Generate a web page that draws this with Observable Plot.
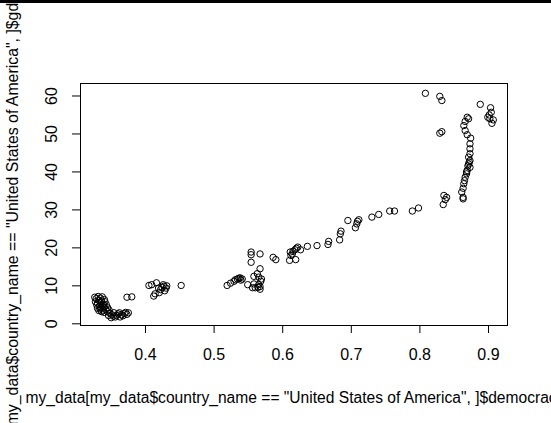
<!DOCTYPE html>
<html>
<head>
<meta charset="utf-8">
<script src="https://cdn.jsdelivr.net/npm/d3@7"></script>
<script src="https://cdn.jsdelivr.net/npm/@observablehq/plot@0.6"></script>
<style>
  html, body { margin: 0; padding: 0; background: #fff; }
  #wrap { position: relative; width: 551px; height: 423px; overflow: hidden; }
  #bar { position: absolute; left: 0; top: 0; width: 551px; height: 3px; background: #000; }
</style>
</head>
<body>
<div id="wrap"><div id="bar"></div></div>
<script>
// democracy index (x) and GDP per capita (y)
const democracy = [
  0.326,0.328,0.331,0.334,0.337,0.332,0.336,0.340,0.327,0.330,0.334,0.338,0.341,0.329,0.333,0.336,0.340,0.343,0.330,0.334,0.338,0.342,0.345,0.336,0.340,0.344,0.347,0.335,0.332,0.339,
  0.348,0.351,0.353,0.356,0.358,0.360,0.362,0.365,0.367,0.369,0.371,0.373,0.375,0.354,0.350,0.363,0.346,
  0.373,0.380,
  0.405,0.409,0.416,0.412,0.414,0.420,0.422,0.424,0.426,0.428,0.430,0.431,0.427,0.419,0.452,
  0.519,0.524,0.529,0.531,0.534,0.536,0.538,0.541,0.539,0.549,0.556,0.558,0.560,0.564,0.565,0.567,0.567,0.568,0.569,0.565,0.563,0.558,0.567,0.554,0.554,0.554,0.567,0.586,0.590,
  0.610,0.612,0.611,0.615,0.618,0.620,0.622,0.619,0.614,0.626,0.636,0.650,0.666,0.667,0.683,0.684,0.685,0.695,0.706,0.708,0.709,0.711,0.730,0.740,0.756,0.763,0.789,0.798,
  0.808,0.829,0.832,0.829,0.832,0.888,0.903,0.904,0.899,0.902,0.907,0.905,0.901,
  0.869,0.871,0.866,0.864,0.866,0.869,0.874,0.873,0.873,0.873,0.871,0.873,0.871,0.873,0.869,0.868,0.866,0.865,0.864,0.863,0.861,0.863,0.863,0.872,0.870,0.868,
  0.835,0.839,0.837,0.834
];
const gdp = [
  7.0,6.6,7.2,6.8,7.1,6.2,6.0,6.4,5.8,5.4,5.6,5.2,5.8,4.9,4.6,4.8,4.4,5.0,4.1,3.9,3.6,3.8,4.2,3.2,3.0,3.3,3.6,4.3,3.5,5.0,
  2.8,2.4,2.0,1.8,2.2,2.6,2.9,2.4,2.1,2.7,3.0,2.5,2.9,2.9,1.6,1.8,2.2,
  7.0,7.1,
  10.1,10.3,10.8,7.3,7.9,8.2,9.0,9.6,10.3,8.7,9.4,10.0,9.9,9.4,10.1,
  10.1,10.7,11.2,11.6,11.8,12.0,12.1,11.8,11.5,10.3,9.5,10.5,9.5,9.6,10.3,9.1,9.8,11.2,11.8,12.3,13.2,12.5,14.5,18.9,18.2,16.2,18.4,17.5,16.9,
  16.7,18.0,18.9,19.1,19.5,19.9,20.2,16.9,18.4,19.5,20.4,20.6,20.9,21.7,22.1,23.7,24.4,27.2,25.3,26.3,27.0,27.4,28.1,28.8,29.7,29.7,29.7,30.5,
  60.7,59.9,58.8,50.2,50.6,57.8,56.9,55.7,54.4,54.0,53.7,52.8,55.0,
  54.4,54.0,53.3,52.2,50.9,49.8,48.9,47.4,46.1,44.8,43.9,43.0,42.1,41.2,40.4,39.5,38.6,37.7,36.9,35.7,34.7,33.3,32.9,42.6,41.6,40.0,
  33.8,33.3,32.7,31.4
];
const xTicks = [0.4, 0.5, 0.6, 0.7, 0.8, 0.9];
const yTicks = [0, 10, 20, 30, 40, 50, 60];
const xLabel = 'my_data[my_data$country_name == "United States of America", ]$democracy';
const yLabel = 'my_data[my_data$country_name == "United States of America", ]$gdp_per_capita';

const points = democracy.map((d, i) => ({x: d, y: gdp[i]}));
const font = "'Liberation Sans', Arial, sans-serif";

const chart = Plot.plot({
  width: 551,
  height: 423,
  marginLeft: 80,
  marginRight: 44,
  marginTop: 83,
  marginBottom: 98,
  style: {fontFamily: font, fontSize: "16px", color: "#000", background: "transparent", overflow: "visible"},
  x: {domain: [0.30525, 0.9277]},
  y: {domain: [-0.448, 63.29]},
  marks: [
    Plot.frame({stroke: "#000", strokeWidth: 1}),
    Plot.axisX({ticks: xTicks, tickSize: 8, tickPadding: 15, tickFormat: d => String(d), label: null, fontSize: 16}),
    Plot.axisY({ticks: yTicks, tickSize: 8, tickPadding: 15.3, tickRotate: -90, tickFormat: d => String(d), label: null, fontSize: 16}),
    Plot.dot(points, {x: "x", y: "y", r: 3.2, stroke: "#000", fill: "none", strokeWidth: 1}),
    Plot.text([xLabel], {text: d => d, frameAnchor: "bottom-left", textAnchor: "start", lineAnchor: "middle", dx: -55, dy: 72, fontSize: 15.6, fill: "#000"}),
    Plot.text([yLabel], {text: d => d, frameAnchor: "left", textAnchor: "start", lineAnchor: "middle", dx: -67.5, dy: 286, rotate: -90, fontSize: 15.85, fill: "#000"})
  ]
});
document.getElementById("wrap").insertBefore(chart, document.getElementById("bar"));
</script>
</body>
</html>
